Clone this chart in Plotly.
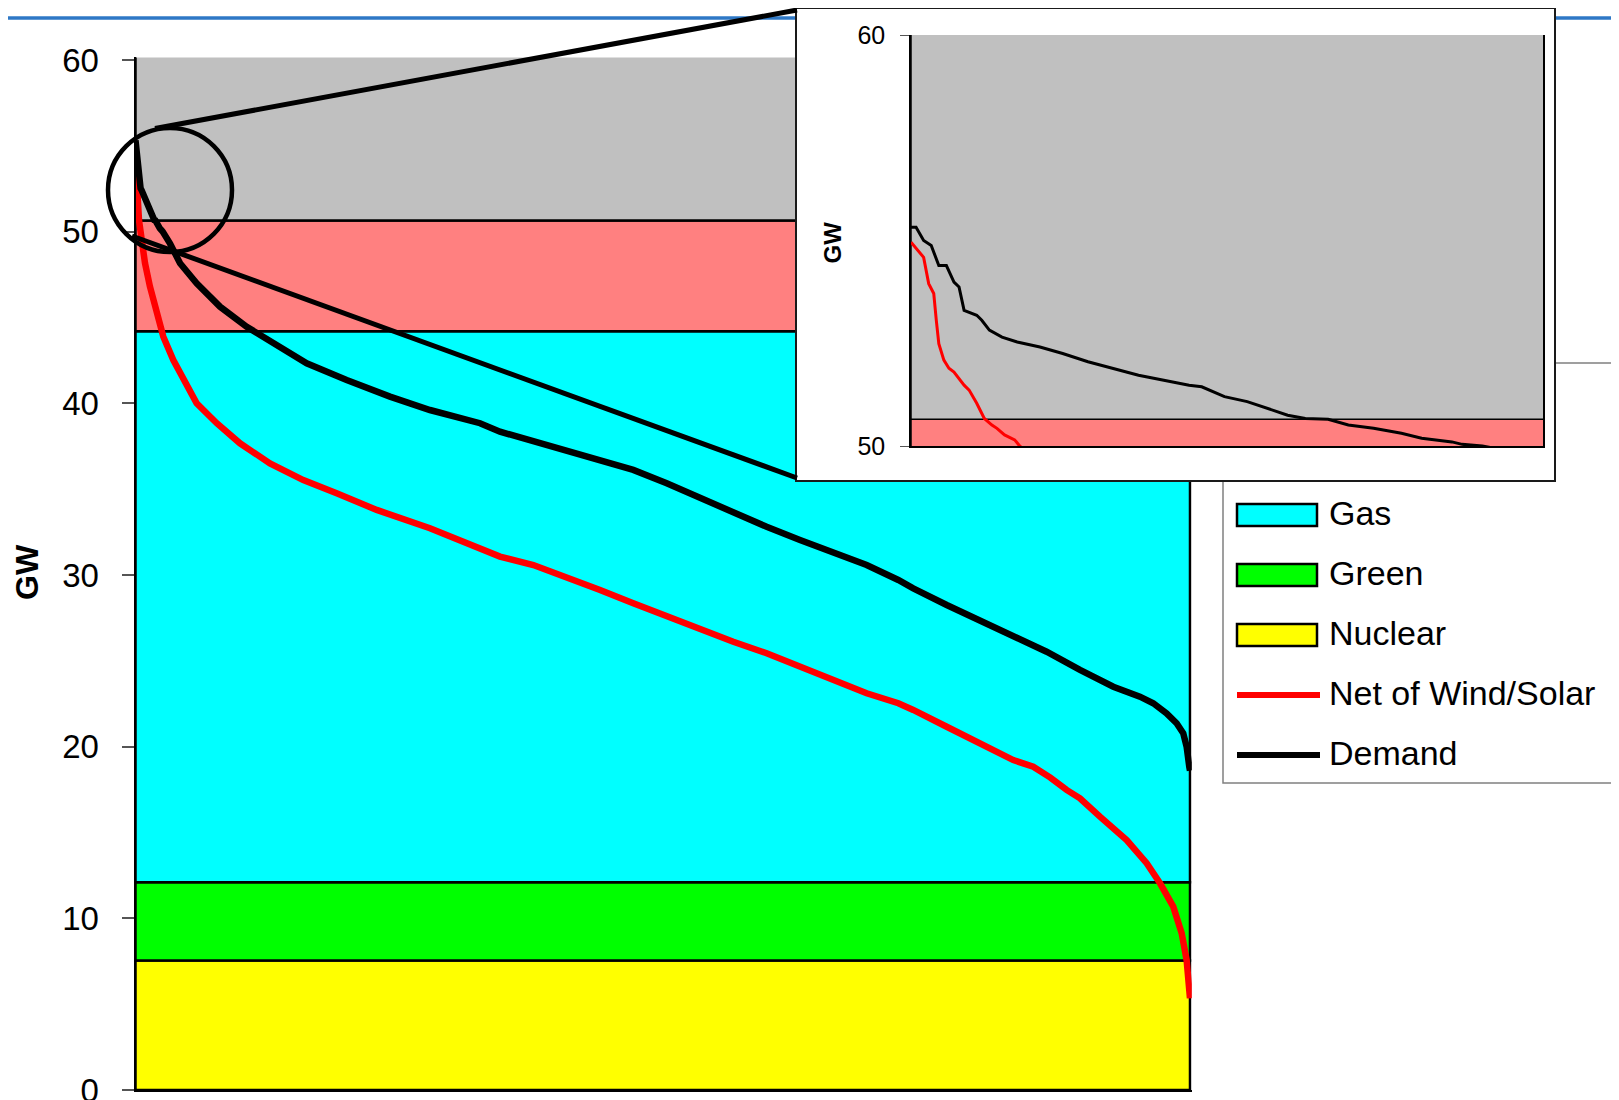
import plotly.graph_objects as go

# page has an 8px body margin; figure is sized/positioned to fill the 1619x1100 window
OX, OY = 8, 8
W, H = 1619 - OX, 1100 - OY

# ---------------- data ----------------
band_names = ["Nuclear", "Green", "Gas", "Mid-merit", "Peak"]
band_bottoms = [0.0, 7.55, 12.1, 44.2, 50.65]
band_tops = [7.55, 12.1, 44.2, 50.65, 62.0]
band_colors = ["#FFFF00", "#00FF00", "#00FFFF", "#FF8080", "#C0C0C0"]

demand_hours = [0, 2, 5, 8, 11, 14, 17, 19, 21, 26, 28, 31, 36, 42, 51, 60, 70, 80, 90, 100,
                110, 115, 124, 133, 139, 149, 156, 165, 173, 183, 194, 202, 214, 218, 226, 287,
                370, 508, 702, 924, 1145, 1422, 1754, 2114, 2446, 2862, 3028, 3305, 3582, 3859,
                4135, 4413, 4690, 4966, 5243, 5520, 5797, 6074, 6337, 6461, 6739, 7015, 7292,
                7569, 7846, 8123, 8344, 8455, 8566, 8649, 8704, 8732, 8754, 8760]
demand_gw = [55.32, 55.32, 55.00, 54.88, 54.39, 54.39, 53.99, 53.87, 53.30, 53.18, 53.06, 52.82,
             52.65, 52.53, 52.41, 52.25, 52.05, 51.89, 51.72, 51.60, 51.48, 51.44, 51.20, 51.08,
             50.95, 50.75, 50.67, 50.65, 50.51, 50.43, 50.31, 50.19, 50.10, 50.04, 50.00, 49.30,
             48.16, 46.99, 45.63, 44.46, 43.50, 42.33, 41.36, 40.39, 39.61, 38.84, 38.35, 37.77,
             37.28, 36.70, 36.12, 35.34, 34.47, 33.69, 32.81, 32.04, 31.36, 30.58, 29.71, 29.22,
             28.25, 27.38, 26.50, 25.53, 24.47, 23.49, 22.91, 22.53, 21.94, 21.36, 20.78, 20.00,
             18.83, 18.60]

net_hours = [0, 2, 5, 7, 9, 10, 11, 13, 15, 17, 21, 23, 26, 29, 32, 34, 37, 41, 43, 79, 120, 176,
             231, 314, 397, 508, 675, 868, 1117, 1394, 1671, 2004, 2446, 3028, 3305, 3582, 3859,
             4135, 4413, 4690, 4966, 5243, 5520, 5797, 6074, 6337, 6461, 6739, 7015, 7292, 7458,
             7600, 7735, 7846, 8012, 8234, 8400, 8511, 8621, 8691, 8732, 8746, 8760]
net_gw = [54.96, 54.80, 54.59, 53.95, 53.71, 53.06, 52.49, 52.09, 51.89, 51.80, 51.48, 51.36, 51.04,
          50.67, 50.51, 50.43, 50.27, 50.15, 50.00, 48.16, 46.80, 45.24, 43.88, 42.52, 41.36, 40.00,
          38.84, 37.67, 36.50, 35.53, 34.76, 33.79, 32.72, 31.07, 30.58, 29.90, 29.13, 28.35, 27.57,
          26.80, 26.11, 25.44, 24.66, 23.88, 23.11, 22.53, 22.14, 21.16, 20.20, 19.22, 18.83, 18.20,
          17.48, 16.99, 15.92, 14.56, 13.21, 12.04, 10.68, 9.13, 7.57, 6.21, 5.34]

y_ticks = [0, 10, 20, 30, 40, 50, 60]
inset_ticks = [50, 60]

legend_labels = ["Gas", "Green", "Nuclear", "Net of Wind/Solar", "Demand"]
legend_colors = ["#00FFFF", "#00FF00", "#FFFF00", "#FF0000", "#000000"]
legend_kinds = ["box", "box", "box", "line", "line"]

FONT = "Liberation Sans, Arial, sans-serif"


def px(x):
    return (x - OX) / W


def py(y):
    return 1 - (y - OY) / H


fig = go.Figure()

# main stacked bands
for name, b, t, c in zip(band_names, band_bottoms, band_tops, band_colors):
    fig.add_trace(go.Bar(x=[4380], y=[t - b], base=[b], width=[8760], name=name,
                         marker=dict(color=c, line=dict(color="black", width=2.5)),
                         opacity=1, showlegend=False, hoverinfo="skip",
                         xaxis="x", yaxis="y"))
fig.add_trace(go.Scatter(x=net_hours, y=net_gw, mode="lines", name="Net of Wind/Solar",
                         line=dict(color="#FF0000", width=6.5), showlegend=False,
                         xaxis="x", yaxis="y"))
fig.add_trace(go.Scatter(x=demand_hours, y=demand_gw, mode="lines", name="Demand",
                         line=dict(color="#000000", width=6.5), showlegend=False,
                         xaxis="x", yaxis="y"))

# inset frame subplot (white box)
fig.add_trace(go.Scatter(x=[], y=[], mode="markers", showlegend=False, hoverinfo="skip",
                         xaxis="x2", yaxis="y2"))

# inset
for name, b, t, c in zip(band_names, band_bottoms, band_tops, band_colors):
    fig.add_trace(go.Bar(x=[4380], y=[t - b], base=[b], width=[8760], name=name,
                         marker=dict(color=c, line=dict(color="black", width=1.5)),
                         opacity=1, showlegend=False, hoverinfo="skip",
                         xaxis="x3", yaxis="y3"))
fig.add_trace(go.Scatter(x=net_hours, y=net_gw, mode="lines", name="Net of Wind/Solar",
                         line=dict(color="#FF0000", width=3), showlegend=False,
                         xaxis="x3", yaxis="y3"))
fig.add_trace(go.Scatter(x=demand_hours, y=demand_gw, mode="lines", name="Demand",
                         line=dict(color="#000000", width=3), showlegend=False,
                         xaxis="x3", yaxis="y3"))

noax = dict(showticklabels=False, ticks="", showgrid=False, zeroline=False, fixedrange=True)

shapes = [
    # decorative blue rule
    dict(type="line", xref="paper", yref="paper", x0=0, x1=1.0, y0=py(18), y1=py(18),
         line=dict(color="#2E78C6", width=3.5), layer="below"),
    # legend frame
    dict(type="rect", xref="paper", yref="paper", x0=px(1223), x1=px(1640), y0=py(783), y1=py(363),
         line=dict(color="#808080", width=1.5), fillcolor="white", layer="below"),
    # zoom callout
    dict(type="circle", xref="paper", yref="paper", x0=px(108), x1=px(232), y0=py(252), y1=py(128),
         line=dict(color="black", width=4.5), layer="above"),
    dict(type="line", xref="paper", yref="paper", x0=px(155), x1=px(797), y0=py(128.5), y1=py(10),
         line=dict(color="black", width=5), layer="above"),
    dict(type="line", xref="paper", yref="paper", x0=px(132), x1=px(797), y0=py(236), y1=py(478),
         line=dict(color="black", width=5), layer="above"),
]

annotations = [
    dict(text="<b>GW</b>", xref="paper", yref="paper", x=px(27), y=py(572), textangle=-90,
         showarrow=False, font=dict(size=32, color="black", family=FONT),
         xanchor="center", yanchor="middle"),
    dict(text="<b>GW</b>", xref="paper", yref="paper", x=px(831.5), y=py(243), textangle=-90,
         showarrow=False, font=dict(size=24, color="black", family=FONT),
         xanchor="center", yanchor="middle"),
]

leg_y = [515, 575, 635, 695, 755]
for lab, col, kind, cy in zip(legend_labels, legend_colors, legend_kinds, leg_y):
    if kind == "box":
        shapes.append(dict(type="rect", xref="paper", yref="paper", x0=px(1237), x1=px(1317),
                           y0=py(cy + 11), y1=py(cy - 11), fillcolor=col,
                           line=dict(color="black", width=2.5), layer="above"))
    else:
        shapes.append(dict(type="line", xref="paper", yref="paper", x0=px(1237), x1=px(1320),
                           y0=py(cy), y1=py(cy), line=dict(color=col, width=6), layer="above"))
    annotations.append(dict(text=lab, xref="paper", yref="paper", x=px(1327), y=py(cy - 2),
                            showarrow=False, xanchor="left", yanchor="middle",
                            font=dict(size=34, color="black", family=FONT)))

fig.update_layout(
    width=W, height=H,
    margin=dict(l=0, r=0, t=0, b=0, autoexpand=False),
    template="none",
    paper_bgcolor="white", plot_bgcolor="white",
    font=dict(family=FONT, color="black"),
    showlegend=False,
    barmode="overlay",
    xaxis=dict(domain=[px(135.5), px(1191.8)], range=[0, 8775], anchor="y",
               showline=True, linecolor="black", linewidth=2, **noax),
    yaxis=dict(domain=[py(1090), py(57.4)], range=[0, 60.15], anchor="x",
               tickvals=y_ticks, ticks="outside", ticklen=12, tickwidth=1.5, tickcolor="#555555",
               tickfont=dict(size=33, color="black", family=FONT), ticklabelstandoff=16,
               ticklabeloverflow="allow",
               showline=True, linecolor="black", linewidth=2,
               showgrid=False, zeroline=False, fixedrange=True),
    xaxis2=dict(domain=[px(796.7), px(1554)], range=[0, 1], anchor="y2",
                showline=True, mirror=True, linecolor="#1a1a1a", linewidth=2, **noax),
    yaxis2=dict(domain=[py(480), py(OY + 1)], range=[0, 1], anchor="x2",
                showline=True, mirror=True, linecolor="#1a1a1a", linewidth=2, **noax),
    xaxis3=dict(domain=[px(911), px(1543)], range=[0, 250], anchor="y3",
                showline=True, linecolor="black", linewidth=1.5, **noax),
    yaxis3=dict(domain=[py(446), py(35)], range=[50, 60], anchor="x3",
                tickvals=inset_ticks, ticks="outside", ticklen=9, tickwidth=1.2, tickcolor="#555555",
                tickfont=dict(size=25, color="black", family=FONT), ticklabelstandoff=10,
                showline=True, mirror=True, linecolor="black", linewidth=1.5,
                showgrid=False, zeroline=False, fixedrange=True),
    shapes=shapes,
    annotations=annotations,
)

fig.write_html("out.html")
